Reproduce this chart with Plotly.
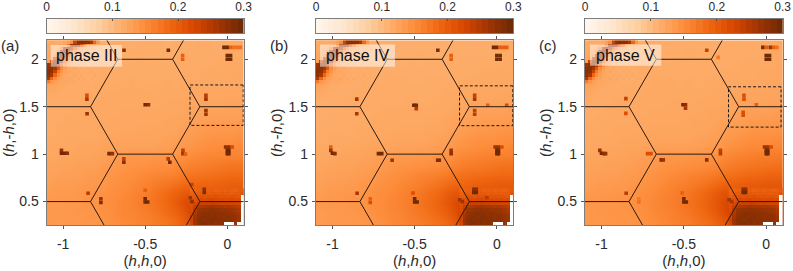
import numpy as np
import plotly.graph_objects as go

W, H = 793, 271
panel_names = ["a", "b", "c"]
phase_text = ["phase III", "phase IV", "phase V"]
letter_text = ["(a)", "(b)", "(c)"]
plot_left = [46.7, 316.0, 585.0]
plot_right = [243.7, 513.3, 782.7]
plot_top, plot_bottom = 40.3, 225.3
cb_top, cb_bottom = 19.0, 33.3
label_box = [(50.7, 122.0, 45.0, 66.7), (320.0, 395.0, 44.5, 66.7), (590.0, 661.3, 44.5, 65.7)]

ticks_h = [-1, -0.5, 0]
ticks_h_text = ["-1", "-0.5", "0"]
ticks_k = [0.5, 1, 1.5, 2]
ticks_k_text = ["0.5", "1", "1.5", "2"]
ticks_cb = [0, 0.1, 0.2, 0.3]
ticks_cb_text = ["0", "0.1", "0.2", "0.3"]

colors = [[0, "#fff5eb"], [0.125, "#fee6ce"], [0.25, "#fdd0a2"], [0.375, "#fdae6b"], [0.5, "#fd8d3c"],
          [0.625, "#f16913"], [0.75, "#d94801"], [0.875, "#a63603"], [1, "#702a04"]]

N = None
bg_offset = 8
# intensity in thousandths, rows from low k to high k, 22 columns
bg_a = [
 [128,126,130,128,132,130,135,140,145,148,152,155,162,168,178,195,215,240,260,270,270,270],
 [128,130,128,132,130,135,138,142,148,150,155,160,168,178,188,205,225,240,250,250,250,250],
 [130,128,132,130,135,133,140,142,148,152,158,165,172,182,195,210,220,225,225,225,225,225],
 [125,128,126,130,130,135,136,140,145,150,155,160,170,178,188,198,195,195,195,198,198,198],
 [122,125,124,126,128,130,132,138,140,146,150,155,160,165,172,180,180,185,185,188,190,190],
 [118,120,122,122,125,126,130,134,138,140,145,148,150,152,155,165,168,170,172,175,178,178],
 [116,118,118,120,120,122,125,128,132,135,136,138,140,140,145,150,155,158,160,162,165,165],
 [112,114,115,116,116,118,120,125,128,130,130,130,132,132,135,140,145,148,150,150,152,152],
 [112,112,112,114,115,115,118,118,118,118,118,118,120,122,125,130,135,138,140,142,142,145],
 [110,110,112,112,112,112,114,114,115,115,115,115,116,118,120,125,128,132,135,135,135,138],
 [108,110,110,110,110,112,112,112,112,112,114,114,114,115,116,120,122,125,128,128,128,130],
 [108,108,110,110,110,110,110,112,112,112,112,112,112,114,115,116,118,120,122,122,122,122],
 [108,108,108,110,110,110,110,110,112,112,112,112,112,112,112,114,115,116,116,118,118,118],
 [106,108,108,108,110,110,110,110,110,110,110,110,110,112,112,112,112,114,114,114,115,115],
 [110,108,108,108,108,108,110,110,110,110,110,110,110,110,110,110,112,112,112,112,112,112],
 [120,112,108,108,108,108,108,108,108,110,108,108,108,110,108,110,110,110,112,110,112,112],
 [125,120,108,106,106,108,108,106,108,108,108,108,106,108,108,108,108,110,110,110,110,112],
 [110,130,125,108,106,106,108,106,106,106,108,106,108,106,108,108,108,108,108,110,110,110],
 [110,110,130,120,106,104,106,106,104,106,106,106,104,106,106,106,108,106,108,106,108,108],
 [108,108,110,125,120,106,104,106,106,104,106,106,106,104,106,106,106,108,106,106,108,108],
]
bg_b = [
 [126,128,128,130,130,132,136,140,146,150,155,158,166,172,182,198,218,240,260,270,270,270],
 [126,128,130,130,132,134,138,144,148,152,158,164,172,182,192,208,228,240,250,250,250,250],
 [128,130,130,132,134,136,140,144,150,154,160,168,176,186,198,212,222,228,228,228,228,228],
 [124,126,128,130,130,134,138,142,146,152,158,164,172,180,192,200,198,198,200,200,202,202],
 [120,124,124,126,128,130,134,138,142,148,152,156,162,168,176,182,182,188,190,192,195,195],
 [118,120,120,122,124,126,130,134,138,142,146,150,152,156,160,168,172,175,176,178,180,180],
 [114,116,118,118,120,122,124,128,132,134,136,138,140,142,146,152,158,160,162,165,168,170],
 [112,112,114,116,116,118,120,124,126,128,128,130,130,134,136,142,148,150,152,154,155,156],
 [110,110,112,112,114,114,116,116,116,118,118,118,120,122,126,132,136,140,142,144,145,148],
 [108,110,110,110,110,112,112,112,114,114,114,114,116,118,120,126,130,134,136,136,138,140],
 [106,108,108,108,110,110,110,110,110,112,112,112,114,114,116,120,124,126,128,130,130,132],
 [106,106,108,108,108,108,110,110,110,110,110,110,112,112,114,116,118,120,122,124,124,124],
 [106,106,106,108,108,108,108,110,110,110,110,110,110,110,112,114,114,116,118,118,118,120],
 [104,106,106,106,108,108,108,108,108,108,110,108,108,110,110,112,112,114,114,114,116,116],
 [110,106,106,106,106,108,108,108,108,108,108,108,108,108,110,110,110,112,112,112,112,114],
 [120,110,106,106,106,106,106,106,108,108,106,106,108,108,108,108,110,110,110,110,112,112],
 [125,120,106,104,104,106,106,106,106,106,106,106,106,106,106,108,108,108,110,110,110,110],
 [110,130,125,106,104,104,104,106,104,104,106,104,106,106,106,106,108,106,108,108,108,110],
 [108,108,130,120,104,104,104,104,104,104,104,106,104,104,106,106,106,106,106,106,108,108],
 [106,106,110,125,120,104,104,104,104,104,104,104,104,104,104,106,106,106,106,106,106,108],
]
bg_c = [
 [130,130,132,132,134,134,138,142,148,152,156,160,168,175,186,200,220,242,260,270,270,270],
 [130,132,132,134,134,136,140,146,150,154,160,166,174,184,196,212,230,242,250,250,250,250],
 [132,132,134,134,136,138,142,146,152,156,162,170,178,188,200,214,224,230,230,230,230,230],
 [128,130,130,132,132,136,140,144,150,154,160,166,174,184,194,205,200,202,202,205,205,205],
 [124,126,126,128,130,132,136,140,144,150,154,158,164,170,178,186,188,192,194,196,198,198],
 [120,122,122,124,126,128,132,136,140,144,148,152,154,158,162,170,174,178,180,182,185,185],
 [118,118,120,120,122,124,126,130,134,136,138,140,142,144,148,156,160,164,166,168,170,172],
 [114,116,116,118,118,120,122,126,130,132,132,132,134,136,138,146,150,154,156,158,158,160],
 [112,114,114,114,116,116,118,120,120,120,120,120,122,124,128,134,140,142,146,146,148,150],
 [110,112,112,112,114,114,114,116,116,116,116,116,118,120,122,128,132,136,138,140,140,142],
 [110,110,110,112,112,112,112,114,114,114,114,114,116,116,118,122,126,128,132,132,132,134],
 [108,110,110,110,110,112,112,112,112,112,112,114,114,114,116,118,120,122,124,126,126,128],
 [108,108,110,110,110,110,110,112,112,112,112,112,112,114,114,116,116,118,120,120,120,122],
 [108,108,108,110,110,110,110,110,110,112,112,110,112,112,112,112,114,116,116,116,118,118],
 [112,108,108,108,110,108,110,110,110,110,110,110,110,110,112,112,112,114,114,114,114,116],
 [120,112,108,108,108,108,108,110,110,110,108,110,108,110,110,110,112,112,112,112,114,114],
 [125,120,110,106,108,108,108,108,108,108,108,108,108,108,108,110,110,110,110,112,112,112],
 [112,130,125,108,106,106,108,106,108,106,108,106,108,108,108,108,108,110,110,110,110,112],
 [110,110,130,120,106,106,106,106,106,106,106,108,106,106,108,108,108,108,108,108,110,110],
 [108,110,112,125,120,106,106,106,106,106,106,106,106,106,106,108,108,108,108,108,108,110],
]
backgrounds = [bg_a, bg_b, bg_c]

# fine patch near (0, 0.25), 16 columns, 11 rows
corner_low = [
 [228,268,280,284,286,282,285,280,283,280,N,N,N,276,N,N],
 [235,270,282,285,280,284,286,282,284,281,283,279,282,275,270,N],
 [232,265,278,282,284,280,283,285,280,282,279,281,278,274,268,N],
 [228,258,274,278,281,283,280,282,278,280,277,276,274,270,262,N],
 [222,250,268,272,276,274,278,276,274,272,272,270,268,264,258,N],
 [218,238,255,258,262,265,268,264,262,260,258,260,256,252,248,N],
 [212,225,232,236,238,236,240,238,236,232,234,232,230,232,228,N],
 [205,215,220,222,220,224,225,222,220,222,218,220,222,218,220,N],
 [200,206,210,212,210,214,212,216,212,210,212,210,214,210,208,N],
 [195,200,202,204,206,202,206,204,202,206,203,204,202,205,204,212],
 [190,192,195,198,196,198,200,196,198,200,197,200,198,196,200,205],
]
# fine patch near (-1.1, 2.2), 16 columns, 13 rows
corner_high = [
 [170,140,130,125,120,120,120,118,118,116,116,114,116,112,116,114],
 [255,190,150,130,125,120,118,122,116,120,114,118,112,116,112,116],
 [278,262,190,150,130,120,118,116,120,114,118,112,116,112,118,112],
 [282,278,236,170,140,125,118,122,114,118,112,116,114,118,112,114],
 [278,282,262,210,150,130,120,116,118,112,116,112,116,112,114,116],
 [270,280,282,252,190,150,130,120,114,118,112,116,110,114,112,112],
 [130,236,278,280,245,180,140,125,116,112,116,112,114,110,114,112],
 [120,130,245,282,270,226,170,135,125,114,118,112,114,112,110,114],
 [120,124,140,245,280,262,216,160,130,120,112,116,112,114,112,110],
 [118,120,124,150,252,282,255,198,150,130,120,114,116,112,114,112],
 [115,120,120,125,160,262,282,245,190,150,130,120,116,112,114,110],
 [118,115,118,118,125,130,170,270,282,272,218,180,140,125,120,114],
 [115,118,115,116,115,120,130,150,236,278,284,282,280,262,190,140],
]

spots_a_h = [-.629,-.359,-.272,-.272,-.02,0,.02,.04,.06,.08,0,.02,0,.02,-.13,-.13,-.13,-.13,-.855,-.855,-.854,-.5,-.48,-1.01,-1.01,-.99,-.975,-.72,-.70,-.63,-.63,-.36,-.35,-.27,-.27,-.255,-.01,.01,.03,0,.01,0,.01,-.848,-.77,-.77,-.5,-.5,-.485,-.5,-.225,-.215,-.14,-.14,-.217]
spots_a_k = [2.095,2.095,2.04,2.0,2.125,2.125,2.125,2.125,2.125,2.125,2.04,2.04,2.0,2.0,1.62,1.58,1.46,1.42,1.62,1.58,1.426,1.52,1.52,1.04,1.01,1.01,1.01,1.005,1.005,.95,.915,.95,.915,1.04,1.005,1.0,1.075,1.075,1.075,1.04,1.04,1.005,1.005,.588,.53,.49,.53,.495,.495,.62,.54,.50,.63,.595,.68]
spots_a_v = [.28,.3,.2,.2,.3,.3,.2,.18,.18,.18,.3,.3,.3,.3,.25,.27,.27,.27,.22,.26,.27,.3,.28,.27,.3,.3,.28,.3,.28,.24,.28,.25,.3,.24,.27,.2,.28,.28,.22,.3,.3,.3,.3,.25,.27,.29,.3,.3,.3,.2,.27,.28,.28,.29,.24]
spots_b_h = [-.359,-.278,-.278,-.02,0,.02,.04,.06,0,.02,0,.02,-.135,-.135,-.135,-.135,-.055,.06,-.852,-.852,-.505,-.49,-.49,-1.01,-1.01,-1.0,-.985,-.72,-.70,-.637,-.36,-.35,-.278,-.278,-.01,.01,.03,0,.01,0,.01,-.85,-.77,-.77,-.5,-.5,-.485,-.51,-.225,-.21,-.14,-.14,-.125,-.125,-.06]
spots_b_k = [2.095,2.04,2.0,2.125,2.125,2.125,2.125,2.125,2.04,2.04,2.0,2.0,1.62,1.58,1.46,1.42,1.515,1.515,1.58,1.426,1.515,1.515,1.48,1.075,1.04,1.01,1.005,1.005,1.005,.935,.935,.935,1.04,1.005,1.075,1.075,1.075,1.04,1.04,1.005,1.005,.588,.53,.49,.53,.495,.495,.59,.52,.50,.63,.595,.63,.595,.54]
spots_b_v = [.29,.2,.2,.3,.3,.2,.2,.2,.3,.3,.3,.3,.24,.26,.24,.25,.2,.22,.26,.26,.3,.3,.25,.2,.27,.3,.28,.3,.3,.27,.29,.29,.27,.28,.27,.27,.22,.3,.3,.3,.3,.26,.2,.22,.3,.3,.3,.22,.27,.27,.28,.3,.28,.3,.25]
spots_c_h = [-.361,-.292,-.02,0,.025,.045,.065,0,.02,0,.02,-.135,-.135,-.14,-.14,-.06,-.852,-.852,-.505,-.49,-.49,-1.01,-1.0,-.985,-.975,-.72,-.70,-.637,-.625,-.361,-.278,-.278,-.01,.01,.03,0,.01,0,.01,-.85,-.773,-.773,-.5,-.5,-.485,-.51,-.225,-.21,-.14,-.14,-.125,-.125]
spots_c_k = [2.095,2.02,2.125,2.125,2.125,2.125,2.125,2.04,2.04,2.0,2.0,1.62,1.58,1.44,1.41,1.52,1.585,1.43,1.52,1.52,1.485,1.04,1.01,1.005,1.005,1.005,1.005,.94,.94,.94,1.04,1.005,1.075,1.075,1.075,1.04,1.04,1.005,1.005,.588,.53,.495,.53,.495,.495,.59,.52,.50,.63,.595,.63,.595]
spots_c_v = [.24,.17,.3,.2,.27,.2,.18,.3,.3,.3,.3,.22,.22,.22,.22,.2,.24,.22,.3,.28,.26,.27,.3,.28,.27,.22,.22,.29,.27,.28,.24,.25,.27,.27,.22,.3,.3,.3,.3,.25,.17,.18,.3,.3,.3,.2,.27,.26,.28,.3,.28,.3]
spots = [(spots_a_h, spots_a_k, spots_a_v), (spots_b_h, spots_b_k, spots_b_v), (spots_c_h, spots_c_k, spots_c_v)]

# Brillouin zone lines
zone_h = [-1.1,-.833,-.667,-.333,-.167,.1,N,-.167,-.333,-.267,N,-.333,-.667,-.733,N,-.667,-.833,N,
          -1.1,-.833,-.667,N,-.333,-.167,.1,N,-.833,-.75,N,-.167,-.25]
zone_k = [1.5,1.5,1,1,1.5,1.5,N,1.5,2,2.2,N,2,2,2.2,N,2,1.5,N,
          .5,.5,1,N,1,.5,.5,N,.5,.25,N,.5,.25]
dash_h = [[.097,-.227,-.227,.097,.097], [.097,-.227,-.227,.097,.097], [.09,-.229,-.229,.09,.09]]
dash_k = [[1.729,1.729,1.303,1.303,1.729], [1.72,1.72,1.30,1.30,1.72], [1.71,1.71,1.285,1.285,1.71]]

font = "Liberation Sans"
ink = "#2a2a2a"
frame = "#7d7d7d"
fig = go.Figure()


def edges(a, b, n):
    return np.linspace(a, b, n + 1).tolist()


def thousandths(rows, offset=0):
    return [[None if v is None else (v + offset) / 1000 for v in r] for r in rows]


low_x = edges(-1.1 + 16 * 1.2 / 22, .1, 16)
low_y = edges(.25, .64, 11)
holes = [[1 if v is None else None for v in r] for r in corner_low]

for i in range(3):
    ax = "" if i == 0 else str(i + 1)
    xa, ya = "x" + ax, "y" + ax
    fig.add_trace(go.Heatmap(x=edges(-1.1, .1, 22), y=edges(.25, 2.2, 20), z=thousandths(backgrounds[i], bg_offset),
                             coloraxis="coloraxis", xaxis=xa, yaxis=ya, hoverongaps=False, zsmooth="best"))
    fig.add_trace(go.Heatmap(x=low_x, y=low_y, z=thousandths(corner_low),
                             coloraxis="coloraxis", xaxis=xa, yaxis=ya, hoverongaps=False))
    fig.add_trace(go.Heatmap(x=low_x, y=low_y, z=holes, colorscale=[[0, "white"], [1, "white"]], showscale=False,
                             xaxis=xa, yaxis=ya, hoverongaps=False))
    fig.add_trace(go.Heatmap(x=edges(-1.1, -.78, 16), y=edges(1.745, 2.2, 13), z=thousandths(corner_high),
                             coloraxis="coloraxis", xaxis=xa, yaxis=ya, hoverongaps=False))
    sh, sk, sv = spots[i]
    fig.add_trace(go.Scatter(x=sh, y=sk, mode="markers", xaxis=xa, yaxis=ya,
                             marker=dict(symbol="square", size=3.6, color=sv, coloraxis="coloraxis")))
    fig.add_trace(go.Scatter(x=zone_h, y=zone_k, mode="lines", xaxis=xa, yaxis=ya,
                             line=dict(color="#2b1a10", width=1)))
    fig.add_trace(go.Scatter(x=dash_h[i], y=dash_k[i], mode="lines", xaxis=xa, yaxis=ya,
                             line=dict(color="#1a1a1a", width=1, dash="3px,2px")))
    # colour bar strip
    cb = "" + str(i + 4)
    levels = (np.arange(32) * .3 / 31).tolist()
    fig.add_trace(go.Heatmap(x=edges(0, .3, 32), y=[0, 1], z=[levels], coloraxis="coloraxis",
                             xaxis="x" + cb, yaxis="y" + cb))

    dom = [plot_left[i] / W, plot_right[i] / W]
    yd = [1 - plot_bottom / H, 1 - plot_top / H]
    common = dict(showline=True, linecolor=frame, linewidth=1.3, mirror="ticks", ticks="outside", ticklen=3,
                  tickcolor="#555555", tickwidth=1, showgrid=False, zeroline=False, automargin=False,
                  tickfont=dict(family=font, size=14, color=ink))
    xkey = "xaxis" + ax
    ykey = "yaxis" + ax
    fig.update_layout({
        xkey: dict(domain=dom, range=[-1.1, .1], tickmode="array", tickvals=ticks_h, ticktext=ticks_h_text,
                   anchor=ya, ticklabelstandoff=3,
                   title=dict(text="(<i>h</i>,<i>h</i>,0)", standoff=4, font=dict(family=font, size=15, color=ink)),
                   **common),
        ykey: dict(domain=yd, range=[.25, 2.2], tickmode="array", tickvals=ticks_k, ticktext=ticks_k_text,
                   anchor=xa, ticklabelstandoff=1,
                   title=dict(text="(<i>h</i>,-<i>h</i>,0)", standoff=2, font=dict(family=font, size=15, color=ink)),
                   **common),
        "xaxis" + cb: dict(domain=dom, range=[0, .3], side="top", anchor="y" + cb, tickmode="array", tickvals=ticks_cb,
                           ticktext=ticks_cb_text, ticks="inside", ticklen=2, tickcolor="#555555", showgrid=False,
                           zeroline=False, showline=True, linecolor=frame, linewidth=1.3, mirror=True, automargin=False,
                           ticklabelstandoff=2, tickfont=dict(family=font, size=12, color=ink)),
        "yaxis" + cb: dict(domain=[1 - cb_bottom / H, 1 - cb_top / H], range=[0, 1], anchor="x" + cb, showticklabels=False,
                           ticks="", showgrid=False, zeroline=False, showline=True, linecolor=frame, linewidth=1.3,
                           mirror=True, automargin=False),
    })
    x0, x1, y0, y1 = label_box[i]
    fig.add_shape(type="rect", xref="paper", yref="paper", x0=x0 / W, x1=x1 / W, y0=1 - y1 / H, y1=1 - y0 / H,
                  fillcolor="rgba(255,255,255,0.5)", line_width=0, layer="above")
    fig.add_annotation(xref="paper", yref="paper", x=(x0 + x1) / 2 / W, y=1 - (y0 + y1) / 2 / H, text=phase_text[i],
                       showarrow=False, xanchor="center", yanchor="middle", font=dict(family=font, size=16, color="#111111"))
    fig.add_annotation(xref="paper", yref="paper", x=(plot_left[i] - 37) / W, y=1 - 45.5 / H, text=letter_text[i],
                       showarrow=False, xanchor="center", yanchor="middle", font=dict(family=font, size=15, color=ink))

fig.update_layout(width=W, height=H, margin=dict(l=0, r=0, t=0, b=0), showlegend=False, plot_bgcolor="white",
                  paper_bgcolor="white", coloraxis=dict(colorscale=colors, cmin=0, cmax=.3, showscale=False),
                  font=dict(family=font, color=ink))
fig.write_html("out.html", config={"displayModeBar": False},
               post_script="document.body.style.margin='0';document.body.style.overflow='hidden';")
